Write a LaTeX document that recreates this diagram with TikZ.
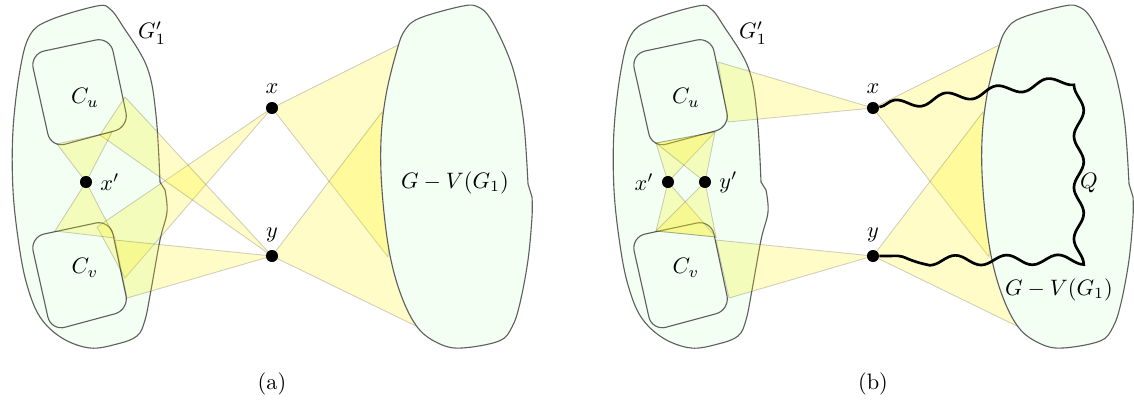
\documentclass[tikz,border=0pt]{standalone}
\usepackage{xcolor}
\usepackage{tikz}
\usetikzlibrary{positioning,decorations.pathmorphing}
\definecolor{blobfill}{RGB}{242,255,242}
\definecolor{blobline}{RGB}{95,95,95}

\begin{document}
\begin{tikzpicture}[x=0.448pt,y=-0.448pt]
  \tikzstyle{blob}=[draw=blobline,line width=0.5pt,fill=blobfill]
  \tikzstyle{comp}=[blob,rounded corners=6.5pt]
  \tikzstyle{fan}=[fill=yellow,fill opacity=0.22,draw=black,draw opacity=0.18,line width=0.4pt]
  \tikzstyle{dot}=[circle,fill=black,inner sep=0pt,minimum size=5.4pt]
  \tikzstyle{wave}=[line width=1.2pt,decorate,decoration={snake,amplitude=2.2pt,segment length=23pt}]
  \useasboundingbox (0,0) rectangle (1134,403);

  % G'_1 with C_u and C_v, the same in both panels
  \foreach \p/\s in {a/0,b/601}{
    \begin{scope}[shift={(\s,0)}]
      \draw[blob] plot[smooth,tension=0.6] coordinates {(165,190) (167,212) (160,240) (151,290) (145,320) (137,336)
        (117,344) (90,348) (62,338) (40,317) (27,285) (19,245) (13,190) (13,130) (20,70) (30,35) (50,20) (97,6)
        (110,9) (122,25) (147,67) (156,115) (160,182)} -- cycle;
      \draw[comp] (30,54) -- (110,37) -- (129,127) -- (51,148) -- cycle;
      \draw[comp] (30,237) -- (110,220) -- (129,310) -- (51,331) -- cycle;
      \node (gone\p) at (152,33) {$G_1'$};
      \node (cu\p) at (85,98) {$C_u$};
      \node (cv\p) at (85,268) {$C_v$};
      \coordinate (x\p) at (272,108);
      \coordinate (y\p) at (272,256);
    \end{scope}
  }

  % panel (a)
  \begin{scope}
    \coordinate (xpa) at (86,182);
    \coordinate (hatop) at (398,45);
    \coordinate (halow) at (388,257);
    \coordinate (hbtop) at (382,112);
    \coordinate (hblow) at (420,328);
    \coordinate (cvxa) at (97,227);
    \coordinate (cvxb) at (125,278);
    \coordinate (cuya) at (125,97);
    \coordinate (cuyb) at (100,135);
    \coordinate (cvya) at (115,240);
    \coordinate (cvyb) at (127,298);
    \coordinate (cupa) at (57,144);
    \coordinate (cupb) at (112,132);
    \coordinate (cvpa) at (55,231);
    \coordinate (cvpb) at (115,238);

    \draw[fan] (xa) -- (hatop) -- (halow) -- cycle;
    \draw[fan] (ya) -- (hbtop) -- (hblow) -- cycle;
    \draw[fan] (xa) -- (cvxa) -- (cvxb) -- cycle;
    \draw[fan] (ya) -- (cuya) -- (cuyb) -- cycle;
    \draw[fan] (ya) -- (cvya) -- (cvyb) -- cycle;
    \draw[fan] (xpa) -- (cupa) -- (cupb) -- cycle;
    \draw[fan] (xpa) -- (cvpa) -- (cvpb) -- cycle;

    % G - V(G_1)
    \draw[blob] plot[smooth,tension=0.6] coordinates {(532,197) (532,217) (528,260) (520,303) (512,327) (499,341)
      (462,348) (440,344) (418,328) (401,295) (389,250) (382,190) (381,140) (386,95) (397,50) (405,30) (420,18)
      (463,6) (478,7) (490,18) (506,50) (516,80) (524,125) (528,184)} -- cycle;

    \node[dot,label=above:$x$] (xadot) at (xa) {};
    \node[dot,label=above:$y$] (yadot) at (ya) {};
    \node[dot,label=right:$x'$] (xpadot) at (xpa) {};
    \node (resta) at (455,183) {$G-V(G_1)$};
    \node (capa) at (272,384) {(a)};
  \end{scope}

  % panel (b)
  \begin{scope}[shift={(601,0)}]
    \coordinate (xpb) at (67,182);
    \coordinate (ypb) at (104,182);
    \coordinate (hatopb) at (398,45);
    \coordinate (halowb) at (388,257);
    \coordinate (hbtopb) at (382,112);
    \coordinate (hblowb) at (420,328);
    \coordinate (cuxa) at (117,62);
    \coordinate (cuxb) at (127,122);
    \coordinate (cvyc) at (115,240);
    \coordinate (cvyd) at (128,298);
    \coordinate (cuba) at (55,143);
    \coordinate (cubb) at (114,132);
    \coordinate (cvta) at (55,231);
    \coordinate (cvtb) at (115,237);
    \coordinate (qtop) at (472,80);
    \coordinate (qbot) at (472,255);

    \draw[fan] (xb) -- (hatopb) -- (halowb) -- cycle;
    \draw[fan] (yb) -- (hbtopb) -- (hblowb) -- cycle;
    \draw[fan] (xb) -- (cuxa) -- (cuxb) -- cycle;
    \draw[fan] (yb) -- (cvyc) -- (cvyd) -- cycle;
    \draw[fan] (xpb) -- (cuba) -- (cubb) -- cycle;
    \draw[fan] (ypb) -- (cuba) -- (cubb) -- cycle;
    \draw[fan] (xpb) -- (cvta) -- (cvtb) -- cycle;
    \draw[fan] (ypb) -- (cvta) -- (cvtb) -- cycle;

    % G - V(G_1)
    \draw[blob] plot[smooth,tension=0.6] coordinates {(532,197) (532,217) (528,260) (520,303) (512,327) (499,341)
      (462,348) (440,344) (418,328) (401,295) (389,250) (382,190) (381,140) (386,95) (397,50) (405,30) (420,18)
      (463,6) (478,7) (490,18) (506,50) (516,80) (524,125) (528,184)} -- cycle;

    \node[dot,label=above:$x$] (xbdot) at (xb) {};
    \node[dot,label=above:$y$] (ybdot) at (yb) {};
    \node[dot,label=left:$x'$] (xpbdot) at (xpb) {};
    \node[dot,label=right:$y'$] (ypbdot) at (ypb) {};
    \draw[wave] (xbdot) -- (qtop) -- (qbot) -- (ybdot);
    \node (qlab) at (488,183) {$Q$};
    \node (restb) at (458,290) {$G-V(G_1)$};
    \node (capb) at (272,384) {(b)};
  \end{scope}
\end{tikzpicture}
\end{document}
